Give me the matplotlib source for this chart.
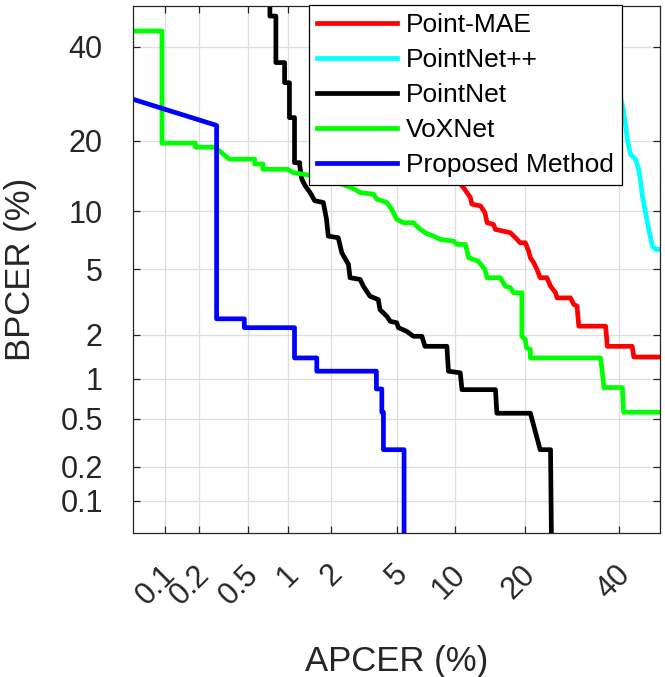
import numpy as np
import matplotlib
matplotlib.use('Agg')
import matplotlib.pyplot as plt
import matplotlib.transforms as mtransforms
from statistics import NormalDist

plt.rcParams['font.family'] = ['Liberation Sans', 'DejaVu Sans']

# DET curves, values in percent
red_apcer = [7.0, 8.5, 11.0, 11.8, 12.0, 13.1, 13.7, 14.0, 14.9, 15.2, 16.4, 17.5, 18.6, 19.1, 20.0, 20.6, 20.9,
             21.5, 22.1, 22.7, 24.0, 24.7, 25.7, 26.0, 28.8, 29.5, 30.2, 30.6, 36.7, 37.1, 43.1, 43.5, 50.0]
red_bpcer = [25.0, 17.0, 12.8, 11.6, 10.8, 10.6, 9.85, 8.8, 8.63, 8.15, 7.99, 7.84, 7.25, 6.97, 6.97, 6.29, 5.80,
             5.45, 5.0, 4.49, 4.49, 4.01, 3.67, 3.42, 3.42, 3.12, 3.05, 2.28, 2.28, 1.68, 1.68, 1.42, 1.42]

cyan_apcer = [36.7, 41.0, 41.4, 41.9, 42.7, 43.9, 44.7, 45.1, 45.6, 46.4, 47.2, 48.1, 48.9, 50.0]
cyan_bpcer = [44.2, 25.6, 23.3, 20.3, 17.7, 16.95, 15.4, 14.0, 11.8, 9.85, 8.15, 6.69, 6.43, 6.43]

black_apcer = [0.74, 0.74, 0.82, 0.82, 0.95, 0.95, 1.03, 1.03, 1.12, 1.12, 1.22, 1.22, 1.26, 1.33, 1.44, 1.55,
               1.77, 1.86, 1.91, 2.22, 2.34, 2.58, 2.64, 3.05, 3.19, 3.50, 3.92, 4.01, 4.39, 4.59, 5.00, 5.11,
               5.68, 6.17, 6.84, 7.1, 9.15, 9.31, 10.6, 10.8, 15.2, 15.4, 20.9, 22.7, 24.7, 25.0]
black_bpcer = [55, 47.5, 47.5, 36.2, 36.2, 31.6, 31.6, 24.3, 24.3, 16.4, 16.4, 15.9, 14.0, 13.1, 12.2, 11.2,
               11.0, 9.15, 7.54, 7.4, 6.17, 5.33, 4.49, 4.39, 4.01, 3.50, 3.34, 2.90, 2.64, 2.45, 2.40, 2.23,
               2.11, 1.96, 1.96, 1.68, 1.68, 1.13, 1.10, 0.83, 0.83, 0.55, 0.55, 0.28, 0.28, 0.01]

green_apcer = [0.05, 0.093, 0.093, 0.185, 0.185, 0.27, 0.357, 0.566, 0.566, 0.655, 0.655, 1.0, 1.10, 1.28, 1.96,
               2.84, 3.05, 3.67, 3.84, 4.39, 4.69, 5.0, 5.45, 6.17, 6.57, 7.1, 7.85, 8.48, 9.85, 10.2, 11.2,
               11.6, 12.8, 13.7, 14.0, 15.9, 16.7, 17.5, 18.0, 19.4, 19.4, 20.0, 20.2, 20.9, 20.9, 35.5, 35.9,
               36.3, 40.7, 41.0, 50.0]
green_bpcer = [43.8, 43.8, 19.6, 19.6, 18.9, 18.9, 16.95, 16.95, 16.2, 16.2, 15.4, 15.4, 14.9, 14.7, 14.0,
               12.6, 12.2, 12.0, 11.4, 11.0, 10.2, 9.15, 8.8, 8.8, 8.3, 7.84, 7.54, 7.25, 7.11, 6.83, 6.83,
               5.80, 5.56, 5.0, 4.49, 4.49, 4.01, 3.93, 3.67, 3.67, 1.96, 1.87, 1.64, 1.60, 1.40, 1.40, 1.13,
               0.86, 0.86, 0.56, 0.56]

blue_apcer = [0.05, 0.28, 0.28, 0.47, 0.47, 1.12, 1.12, 1.60, 1.60, 3.82, 3.82, 4.11, 4.11, 4.20, 4.20, 5.49, 5.49]
blue_bpcer = [28.0, 22.8, 2.54, 2.54, 2.23, 2.23, 1.40, 1.40, 1.13, 1.13, 0.84, 0.84, 0.56, 0.56, 0.28, 0.28, 0.01]

tick_vals = [0.1, 0.2, 0.5, 1, 2, 5, 10, 20, 40]
tick_labels = ['0.1', '0.2', '0.5', '1', '2', '5', '10', '20', '40']

# normal deviate (probit) scale
nd = NormalDist()
_ppf = np.vectorize(nd.inv_cdf, otypes=[float])
_cdf = np.vectorize(nd.cdf, otypes=[float])


def probit(p):
    p = np.clip(np.asarray(p, dtype=float) / 100.0, 1e-9, 1 - 1e-9)
    return _ppf(p)


def unprobit(z):
    return _cdf(np.asarray(z, dtype=float)) * 100.0


fig = plt.figure(figsize=(6.65, 6.77), dpi=100)
ax = fig.add_axes([0.2005, 0.2127, 0.7920, 0.7784])
ax.set_xscale('function', functions=(probit, unprobit))
ax.set_yscale('function', functions=(probit, unprobit))

lw = 3.4
ax.plot(red_apcer, red_bpcer, color='#ff0000', lw=lw, label='Point-MAE')
ax.plot(cyan_apcer, cyan_bpcer, color='#00ffff', lw=lw, label='PointNet++')
ax.plot(black_apcer, black_bpcer, color='#000000', lw=lw, label='PointNet')
ax.plot(green_apcer, green_bpcer, color='#00ff00', lw=lw, label='VoXNet')
ax.plot(blue_apcer, blue_bpcer, color='#0000ff', lw=lw, label='Proposed Method')

ax.set_xlim(0.05, 50)
ax.set_ylim(0.05, 50)
ax.set_xticks(tick_vals)
ax.set_xticklabels(tick_labels, rotation=45, ha='right', va='center', rotation_mode='anchor')
ax.set_yticks(tick_vals)
ax.set_yticklabels(tick_labels)
ax.minorticks_off()

ax.grid(True, color='#dedede', lw=0.9)
ax.set_axisbelow(True)
ax.tick_params(direction='in', length=5, width=0.9, top=True, right=True,
               labelsize=22, colors='#262626')
ax.tick_params(axis='x', pad=28)
ax.tick_params(axis='y', pad=22)
for s in ax.spines.values():
    s.set_color('#262626')
    s.set_linewidth(0.9)

# nudge rotated x labels a little to the right, like the original
shift = mtransforms.ScaledTranslation(6 / 100, 2 / 100, fig.dpi_scale_trans)
for lab in ax.get_xticklabels():
    lab.set_transform(lab.get_transform() + shift)

ax.set_xlabel('APCER (%)', fontsize=25, color='#262626', va='center')
ax.set_ylabel('BPCER (%)', fontsize=25, color='#262626', va='center')
ax.xaxis.set_label_coords(0.5, -0.243)
ax.yaxis.set_label_coords(-0.215, 0.5)

leg = ax.legend(loc='upper right', bbox_to_anchor=(0.927, 1.002), fontsize=19,
                frameon=True, fancybox=False, framealpha=1, edgecolor='#000000',
                handlelength=3.0, handletextpad=0.35, labelspacing=0.42, borderpad=0.3,
                borderaxespad=0)
leg.get_frame().set_linewidth(0.9)

fig.savefig('out.png', dpi=100)
